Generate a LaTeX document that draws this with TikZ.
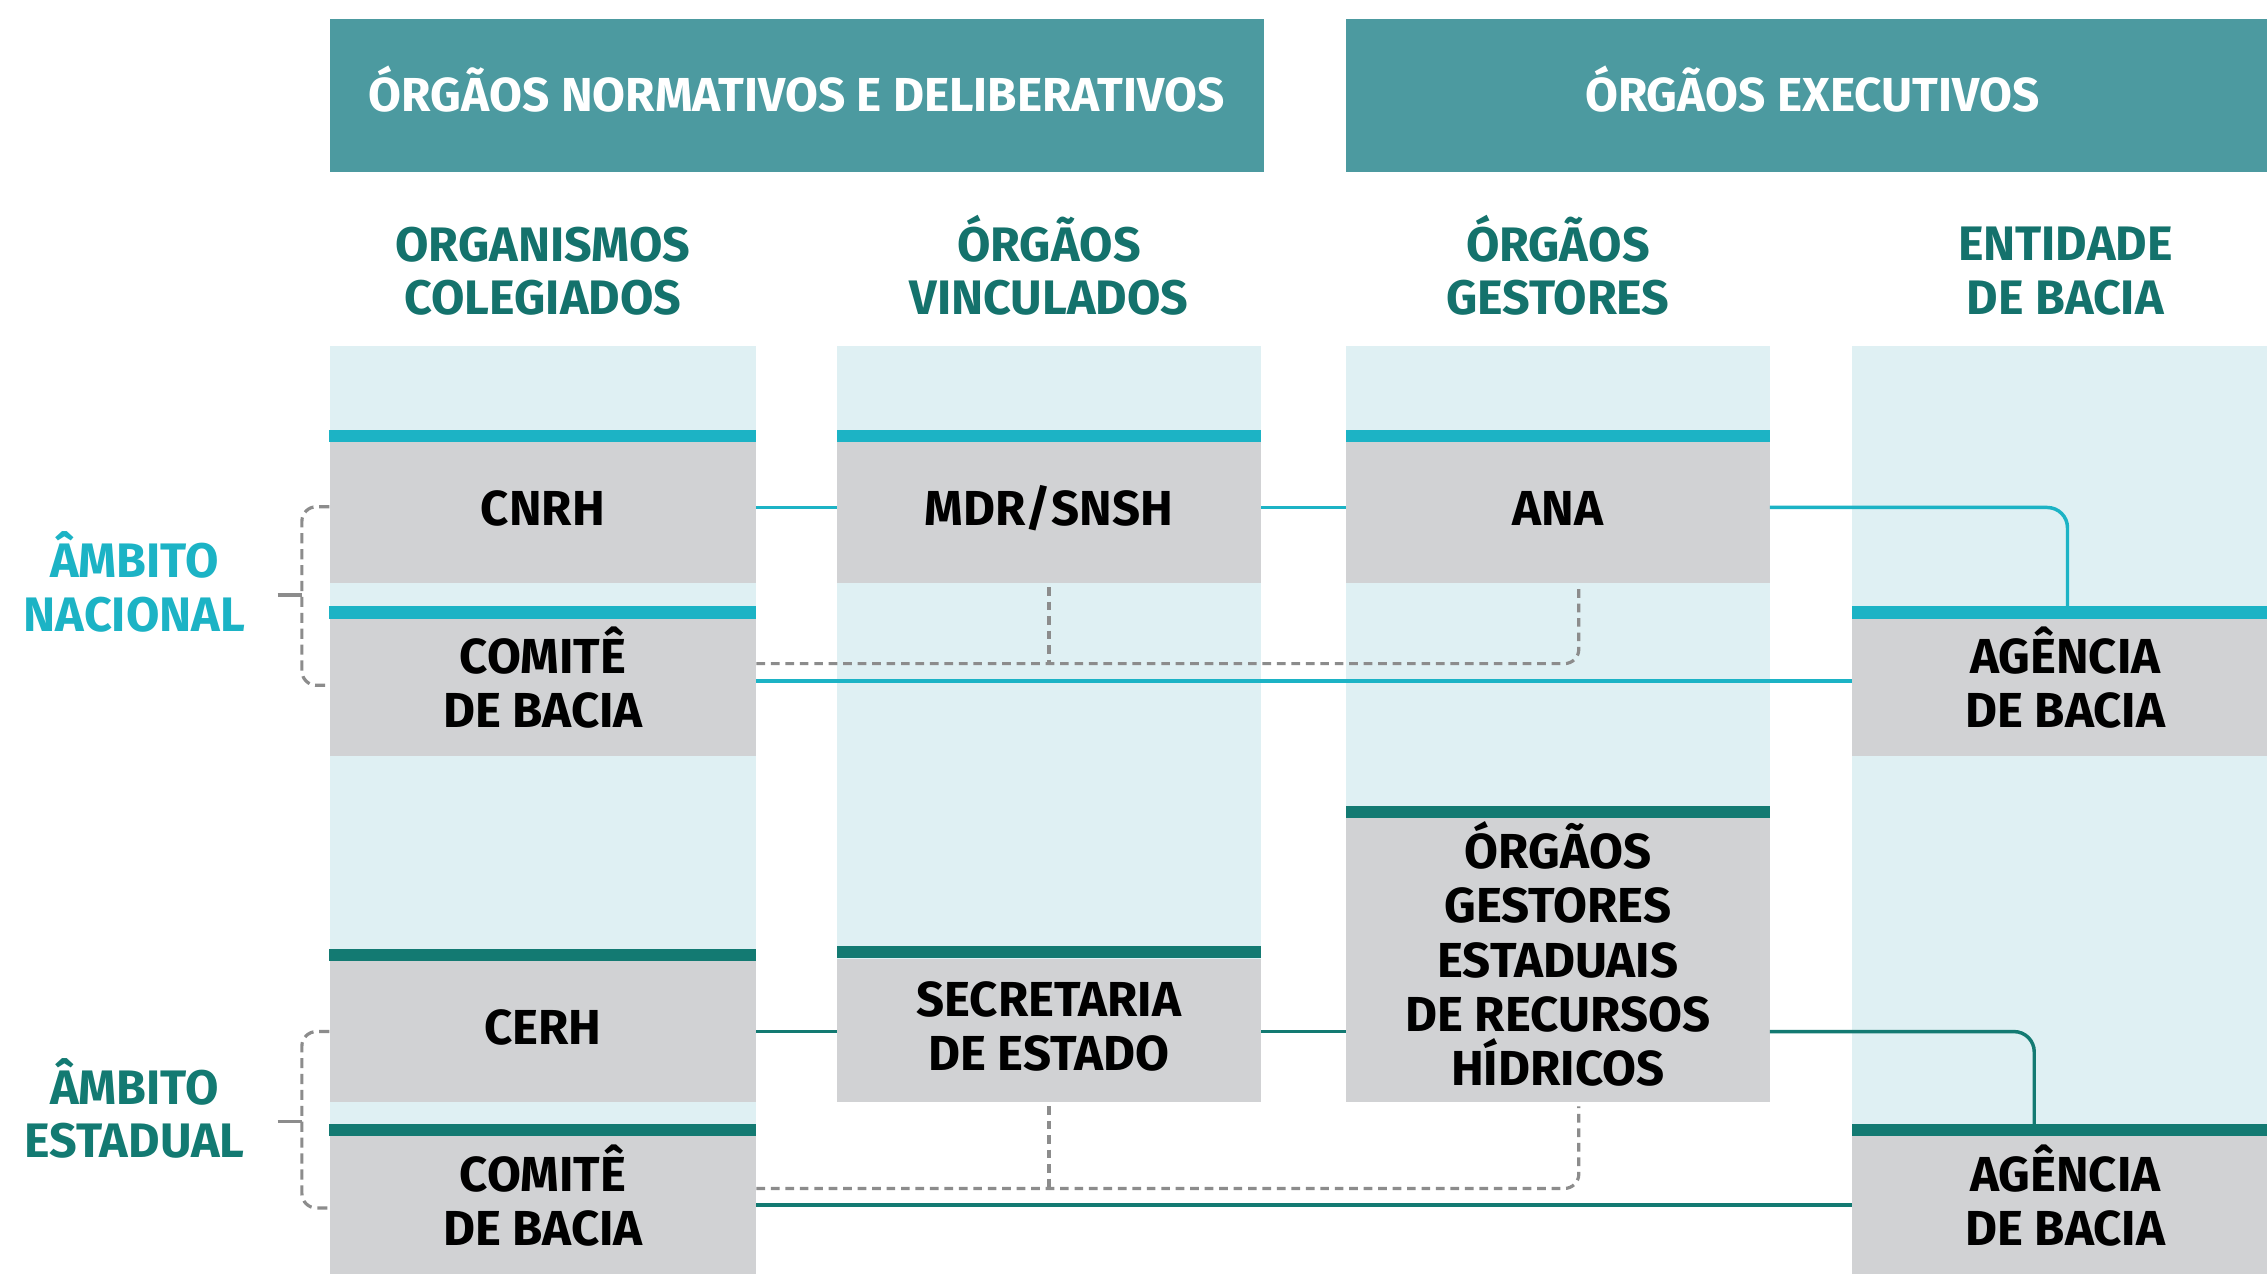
\documentclass[tikz,border=0pt]{standalone}
\usepackage{fontspec}
\newfontfamily\cf{Fira Sans}
\usetikzlibrary{calc}
\definecolor{hdrteal}{HTML}{4C9AA0}
\definecolor{lightbg}{HTML}{DFF0F3}
\definecolor{boxgray}{HTML}{D1D2D4}
\definecolor{cyanc}{HTML}{1CB3C5}
\definecolor{darkteal}{HTML}{137A72}
\definecolor{headtxt}{HTML}{14726C}
\definecolor{dashgray}{HTML}{8C8C8C}
\newcommand{\sm}[1]{\smash{#1}}
\tikzset{
  hdr/.style={fill=hdrteal, text=white, inner sep=0pt, minimum height=106pt,
    font=\cf\bfseries\fontsize{33}{38}\selectfont},
  colhead/.style={text=headtxt, align=center, inner sep=0pt,
    font=\cf\bfseries\fontsize{33.5}{37}\selectfont},
  orgbox/.style={fill=boxgray, text=black, align=center, inner sep=0pt,
    minimum width=295pt, font=\cf\bfseries\fontsize{34}{37.5}\selectfont},
  lift/.style={execute at end node={\rule[-6pt]{0pt}{0pt}}},
  ambito/.style={align=center, inner sep=0pt,
    font=\cf\bfseries\fontsize{33.5}{37}\selectfont},
  natline/.style={draw=cyanc, line width=2.4pt},
  stline/.style={draw=darkteal, line width=2.4pt},
  dline/.style={draw=dashgray, line width=2.2pt, dash pattern=on 6pt off 4pt},
}
\begin{document}
\begin{tikzpicture}[x=1pt,y=-1pt]
\clip (0,0) rectangle (1568,881);
\fill[white] (0,0) rectangle (1568,881);
% headers
\node[hdr, minimum width=646pt] (h1) at (551,66) {\sm{Ó}RG\sm{Ã}OS NORMATIVOS E DELIBERATIVOS};
\node[hdr, minimum width=645pt] (h2) at (1253.5,66) {\sm{Ó}RG\sm{Ã}OS EXECUTIVOS};
% column headings
\node[colhead] (c1) at (375.5,187.5) {ORGANISMOS\\COLEGIADOS};
\node[colhead] (c2) at (725.5,187.5) {\sm{Ó}RG\sm{Ã}OS\\VINCULADOS};
\node[colhead] (c3) at (1077.5,187.5) {\sm{Ó}RG\sm{Ã}OS\\GESTORES};
\node[colhead] (c4) at (1428.5,187.5) {ENTIDADE\\DE BACIA};
% column backgrounds
\fill[lightbg] (228,239) rectangle (523,881);
\fill[lightbg] (579,239) rectangle (872,663);
\fill[lightbg] (931,239) rectangle (1224,566);
\fill[lightbg] (1281,239) rectangle (1576,881);
% boxes
\node[orgbox, lift, minimum height=97pt] (cnrh) at (375.5,354.5) {CNRH};
\node[orgbox, lift, minimum height=95pt] (cbn) at (375.5,475.5) {COMIT\sm{Ê}\\DE BACIA};
\node[orgbox, lift, minimum width=293pt, minimum height=97pt] (mdr) at (725.5,354.5) {MDR\sm{/}SNSH};
\node[orgbox, lift, minimum width=293pt, minimum height=97pt] (ana) at (1077.5,354.5) {ANA};
\node[orgbox, lift, minimum height=95pt] (agn) at (1428.5,475.5) {AG\sm{Ê}NCIA\\DE BACIA};
\node[orgbox, lift, minimum height=97pt] (cerh) at (375.5,713.5) {CERH};
\node[orgbox, lift, minimum width=293pt, minimum height=99pt] (sec) at (725.5,712.5) {SECRETARIA\\DE ESTADO};
\node[orgbox, minimum width=293pt, minimum height=196pt] (oge) at (1077.5,664) {\sm{Ó}RG\sm{Ã}OS\\GESTORES\\ESTADUAIS\\DE RECURSOS\\H\sm{Í}DRICOS};
\node[orgbox, lift, minimum height=95pt] (cbs) at (375.5,833.5) {COMIT\sm{Ê}\\DE BACIA};
\node[orgbox, lift, minimum height=95pt] (ags) at (1428.5,833.5) {AG\sm{Ê}NCIA\\DE BACIA};
% top bars
\foreach \n in {cnrh,mdr,ana,cbn,agn}{
  \fill[cyanc] ([yshift=8.5pt]\n.north west) rectangle (\n.north east);}
\foreach \n in {cerh,sec,oge,cbs,ags}{
  \fill[darkteal] ([yshift=8.5pt]\n.north west) rectangle (\n.north east);}
% national connectors
\coordinate (nd) at ([yshift=16.5pt]cbn.east);
\draw[natline] ([yshift=3.5pt]cnrh.east) -- ([yshift=3.5pt]mdr.west);
\draw[natline] ([yshift=3.5pt]mdr.east) -- ([yshift=3.5pt]ana.west);
\draw[natline, rounded corners=14pt] ([yshift=3.5pt]ana.east) -| ([xshift=1.5pt,yshift=8.5pt]agn.north);
\draw[natline] ([yshift=4.5pt]cbn.east) -- ([yshift=4.5pt]agn.west);
\draw[dline, rounded corners=10pt] (nd) -| ([xshift=14.5pt,yshift=-3pt]ana.south);
\draw[dline] ([yshift=-3pt]mdr.south) -- (mdr.south |- nd);
% state connectors
\coordinate (sd) at ([yshift=11.5pt]cbs.east);
\draw[stline] (cerh.east) -- (cerh.east -| sec.west);
\draw[stline] (cerh.east -| sec.east) -- (cerh.east -| oge.west);
\draw[stline, rounded corners=14pt] (cerh.east -| oge.east) -| ([xshift=-21.5pt,yshift=8.5pt]ags.north);
\draw[stline] (cbs.east) -- (cbs.west -| ags.west);
\draw[dline, rounded corners=10pt] (sd) -| ([xshift=14.5pt,yshift=-3pt]oge.south);
\draw[dline] ([yshift=-3pt]sec.south) -- (sec.south |- sd);
% ambito labels
\node[ambito, text=cyanc] (an) at (93,406.5) {\sm{Â}MBITO\\NACIONAL};
\node[ambito, text=darkteal] (ae) at (93,770.5) {\sm{Â}MBITO\\ESTADUAL};
% brackets
\coordinate (bn) at (192,411.5);
\coordinate (bs) at (192,775.5);
\draw[dline, dash pattern=on 7pt off 4pt, rounded corners=10pt]
  ([yshift=4pt]cnrh.west) -- ++(-19,0) -- ++(0,123.5) -- ++(19,0);
\draw[dashgray, line width=2.2pt] (bn) -- ++(17,0);
\draw[dline, dash pattern=on 7pt off 4pt, rounded corners=10pt]
  (cerh.west) -- ++(-19,0) -- ++(0,122) -- ++(19,0);
\draw[dashgray, line width=2.2pt] (bs) -- ++(17,0);
\end{tikzpicture}
\end{document}
